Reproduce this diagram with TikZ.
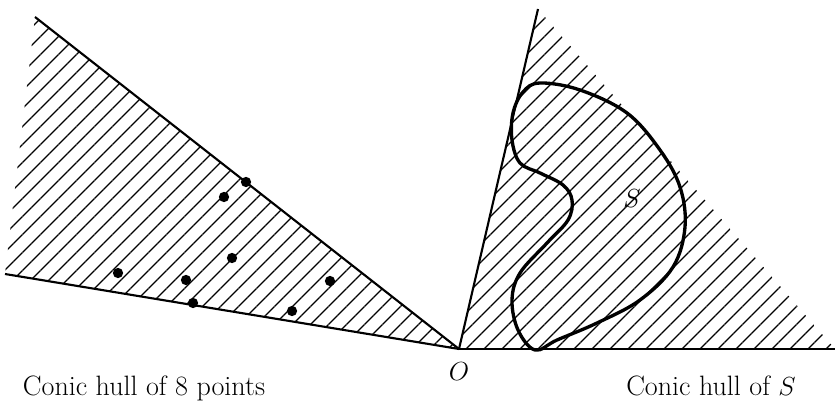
\documentclass[tikz,border=0pt]{standalone}
\usepackage{tikz}
\usetikzlibrary{patterns.meta}

\begin{document}
\begin{tikzpicture}[
  x=0.66pt, y=-0.66pt,
  ray/.style     = {line width=1.4pt},
  hatch/.style   = {pattern={Lines[angle=45, distance=8.4pt, line width=0.8pt]}},
  blob/.style    = {line width=2.2pt, line join=round},
  dot/.style     = {circle, fill=black, inner sep=0pt, minimum size=6.8pt},
  caption/.style = {font=\fontsize{18.5pt}{22pt}\selectfont, inner sep=0pt},
]
\useasboundingbox (0,0) rectangle (835,401);

%% ==================== RAYS ====================
\coordinate (O)  at (459,349);
\coordinate (lu) at (35,17);
\coordinate (ll) at (5,274);
\coordinate (ru) at (538,9);
\coordinate (rr) at (835,349);

%% Hatched cones
\path[hatch] (O) -- (lu) -- (ll) -- cycle;
\path[hatch] (O) -- (ru) -- (rr) -- cycle;

\draw[ray] (O) -- (lu);
\draw[ray] (O) -- (ll);
\draw[ray] (O) -- (ru);
\draw[ray] (O) -- (rr);

%% ==================== LEFT: 8 POINTS ====================
\node[dot] (p1) at (246,182) {};
\node[dot] (p2) at (224,197) {};
\node[dot] (p3) at (232,258) {};
\node[dot] (p4) at (118,273) {};
\node[dot] (p5) at (186,280) {};
\node[dot] (p6) at (193,303) {};
\node[dot] (p7) at (330,281) {};
\node[dot] (p8) at (292,311) {};

%% ==================== RIGHT: SET S ====================
\draw[blob] plot[smooth cycle, tension=0.6] coordinates {
  (540,83) (580,90) (627,113) (660,150) (680,187) (685,227) (673,267)
  (640,300) (597,323) (557,340) (535,350) (518,330) (512,300) (520,273)
  (547,243) (568,220) (572,200) (563,185) (540,173) (520,163) (512,140)
  (513,113) (523,92)};

\node[caption] (Slabel) at (632,199) {$S$};

%% ==================== LABELS ====================
\node[caption, anchor=base] (Olabel) at (459,380) {$O$};
\node[caption, anchor=base] (cap1) at (144,395) {Conic hull of 8 points};
\node[caption, anchor=base] (cap2) at (711,395) {Conic hull of $S$};

\end{tikzpicture}
\end{document}
